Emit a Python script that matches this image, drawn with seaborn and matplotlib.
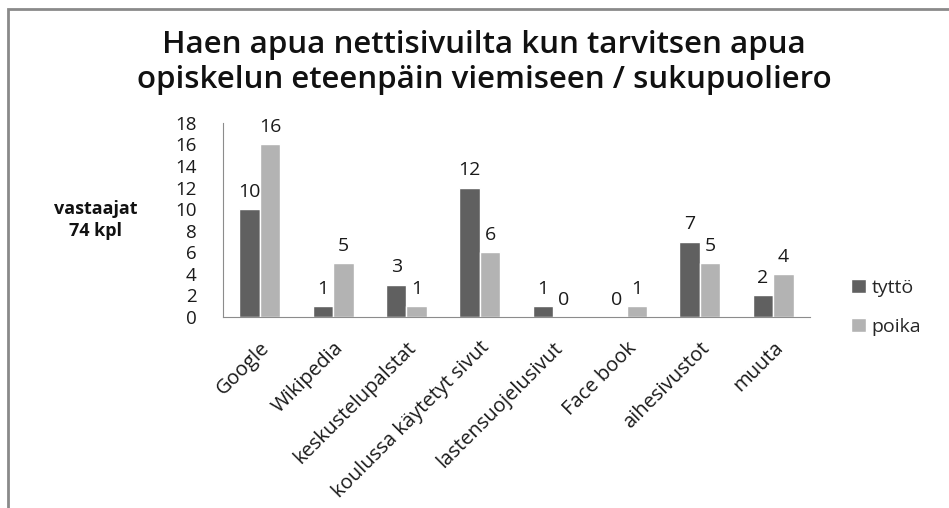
import pandas as pd
import matplotlib.pyplot as plt
import seaborn as sns
from matplotlib.patches import Rectangle, Patch

# data
categories = ["Google", "Wikipedia", "keskustelupalstat", "koulussa käytetyt sivut",
              "lastensuojelusivut", "Face book", "aihesivustot", "muuta"]
tytto = [10, 1, 3, 12, 1, 0, 7, 2]
poika = [16, 5, 1, 6, 0, 1, 5, 4]
series = ["tyttö", "poika"]
colors = ["#606060", "#b3b3b3"]

df = pd.DataFrame({
    "kategoria": categories * 2,
    "arvo": tytto + poika,
    "sukupuoli": ["tyttö"] * len(categories) + ["poika"] * len(categories),
})

sns.set_style("white")
plt.rcParams["font.family"] = ["Open Sans", "DejaVu Sans"]

fig = plt.figure(figsize=(9.49, 5.08), dpi=100)
ax = fig.add_axes([0.235, 0.376, 0.6185, 0.382])

sns.barplot(data=df, x="kategoria", y="arvo", hue="sukupuoli", hue_order=series,
            palette=colors, width=0.56, saturation=1, ax=ax, legend=False)

for cont in ax.containers:
    ax.bar_label(cont, fontsize=14, padding=6, color="#1a1a1a")

ax.set_ylim(0, 18)
ax.set_yticks(range(0, 19, 2))
ax.set_xlim(-0.5, len(categories) - 0.5)
ax.set_xlabel("")
ax.set_ylabel("")
ax.tick_params(axis="y", length=0, labelsize=13.5, pad=19, colors="#1a1a1a")
ax.set_xticks([i - 0.5 for i in range(len(categories) + 1)], minor=True)
ax.tick_params(axis="x", which="major", length=0, labelsize=14.5, pad=15, colors="#1a1a1a")
ax.tick_params(axis="x", which="minor", length=6, width=1, color="#8c8c8c", direction="out")
ax.set_xticklabels(categories, rotation=45, ha="right", rotation_mode="anchor")
for side in ["top", "right"]:
    ax.spines[side].set_visible(False)
ax.spines["bottom"].set_color("#8c8c8c")
ax.spines["left"].set_color("#8c8c8c")

fig.text(0.51, 0.911, "Haen apua nettisivuilta kun tarvitsen apua", ha="center", va="center",
         fontsize=22.5, fontweight="semibold", color="#111111")
fig.text(0.51, 0.842, "opiskelun eteenpäin viemiseen / sukupuoliero", ha="center", va="center",
         fontsize=22.5, fontweight="semibold", color="#111111")

fig.text(0.101, 0.567, "vastaajat\n74 kpl", ha="center", va="center", fontsize=13,
         fontweight="bold", linespacing=1.3, color="#111111")

handles = [Patch(facecolor=c, label=s) for s, c in zip(series, colors)]
fig.legend(handles=handles, loc="center left", bbox_to_anchor=(0.897, 0.395), frameon=False,
           fontsize=14, handlelength=0.75, handleheight=0.75, handletextpad=0.3,
           labelspacing=1.05, borderpad=0, borderaxespad=0)

fig.patches.append(Rectangle((8 / 949, -0.1), 1.2, 1.1 - 9 / 508, transform=fig.transFigure,
                             fill=False, edgecolor="#8a8a8a", linewidth=2))

fig.savefig("out.png", dpi=100)
